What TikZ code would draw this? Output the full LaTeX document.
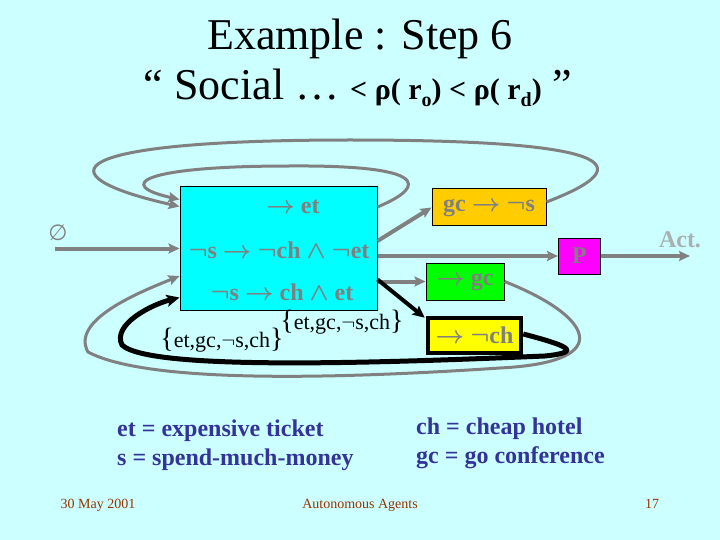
\documentclass[tikz,border=0pt]{standalone}
\usepackage{fontspec}
\setmainfont{Liberation Serif}
\newfontfamily\symfont{DejaVu Sans}
\usetikzlibrary{arrows.meta}
\definecolor{bgc}{HTML}{CCFFFF}
\definecolor{mainc}{HTML}{00FFFF}
\definecolor{orangec}{HTML}{FFCC00}
\definecolor{greenc}{HTML}{00FF00}
\definecolor{yellowc}{HTML}{FFFF00}
\definecolor{magc}{HTML}{FF00FF}
\definecolor{grayc}{HTML}{808080}
\definecolor{actc}{HTML}{A8B0B0}
\definecolor{legc}{HTML}{333399}
\definecolor{footc}{HTML}{993300}
\newcommand{\myto}{$\rightarrow$}
\newcommand{\myneg}{$\neg$}
\newcommand{\myand}{$\wedge$}
\newcommand{\myssub}[1]{\raisebox{-7pt}{\fontsize{20}{20}\selectfont #1}}
\newcommand{\mybr}[1]{{\fontsize{28}{28}\selectfont #1}}
\tikzset{
  gtxt/.style={text=grayc, font=\fontsize{24}{24}\selectfont\bfseries\boldmath},
  boxst/.style={draw=black, line width=1pt, inner sep=0pt},
  tipst/.style={-{Stealth[length=11pt,width=10pt,inset=2pt]}},
  garrow/.style={draw=grayc, line width=4pt, tipst},
  gloop/.style={draw=grayc, line width=3pt, tipst},
  barrow/.style={draw=black, line width=5pt, -{Stealth[length=13pt,width=12pt,inset=3pt]}},
  legend/.style={text=legc, font=\fontsize{24}{24}\selectfont\bfseries, anchor=base west, inner sep=0pt},
  foot/.style={text=footc, font=\fontsize{14}{14}\selectfont, anchor=base, inner sep=0pt},
  brlabel/.style={text=black, font=\fontsize{22}{22}\selectfont, inner sep=0pt},
}
\begin{document}
\begin{tikzpicture}[x=1pt,y=-1pt]
\useasboundingbox (0,0) rectangle (720,540);
\fill[bgc] (0,0) rectangle (720,540);

% title
\node[anchor=base, inner sep=0pt, font=\fontsize{44}{44}\selectfont] (t1) at (360,50) {Example : Step 6};
\node[anchor=base, inner sep=0pt] (t2) at (358,100) {{\fontsize{44}{44}\selectfont “ Social … }{\fontsize{30}{30}\selectfont\bfseries < ρ( r\myssub{o}) < ρ( r\myssub{d})}{\fontsize{44}{44}\selectfont\ ”}};

% boxes
\node[boxst, fill=mainc, minimum width=197pt, minimum height=123pt] (main) at (278.5,248.5) {};
\node[gtxt] (r1) at (293,207) {\myto\ et};
\node[gtxt] (r2) at (279,250) {\myneg s \myto\ \myneg ch \myand\ \myneg et};
\node[gtxt] (r3) at (282,292) {\myneg s \myto\ ch \myand\ et};

\node[boxst, fill=orangec, minimum width=114pt, minimum height=37pt, gtxt] (gcs) at (489,207.5) {gc \myto\ \myneg s};
\node[boxst, fill=magc, minimum width=42pt, minimum height=36pt, gtxt] (P) at (579.5,256) {P};
\node[boxst, fill=greenc, minimum width=78pt, minimum height=37pt, gtxt] (gc) at (465,281.5) {\myto\ gc};
\node[boxst, line width=4.5pt, fill=yellowc, minimum width=93pt, minimum height=35pt, gtxt] (ch) at (474.5,335.5) {\myto\ \myneg ch};

% empty set input
\node[text=grayc, font=\fontsize{22}{22}\selectfont\symfont, inner sep=0pt] (empty) at (58,233) {∅};
\coordinate (s0) at (55,248.5);
\draw[garrow] (s0) -- (main.west);

% output
\coordinate (actend) at (690,256);
\node[text=actc, font=\fontsize{24}{24}\selectfont\bfseries, inner sep=0pt] (act) at (680,240) {Act.};
\draw[garrow] (main.east |- P.west) -- (P.west);
\draw[garrow] (P.east) -- (actend);
\draw[garrow] ([yshift=7.5pt]main.east) -- (gcs.west);
\draw[garrow] (main.east |- gc.west) -- (gc.west);
\draw[draw=black, line width=4pt, -{Stealth[length=12pt,width=11pt,inset=2pt]}] ([yshift=-31pt]main.east) -- ([xshift=-1pt,yshift=-2pt]ch.north west);

% loops on top
\draw[gloop] ([yshift=41.5pt]main.east) .. controls (430,185) and (425,165) .. (290,166)
  .. controls (140,166) and (115,185) .. ([yshift=-13pt]main.north west);
\draw[gloop] ([yshift=5.5pt]gcs.east) .. controls (630,170) and (640,140) .. (350,140)
  .. controls (60,140) and (40,175) .. ([yshift=-20pt]main.north west);

% loops at bottom
\draw[gloop] (gc.east) .. controls (590,315) and (620,362) .. (500,368)
  .. controls (350,378) and (150,385) .. (88,352)
  .. controls (70,320) and (140,292) .. ([yshift=-27.5pt]main.west);
\draw[barrow] ([yshift=1.5pt]ch.east) .. controls (565,345) and (585,352) .. (545,356)
  .. controls (400,362) and (150,372) .. (122,345)
  .. controls (112,325) and (150,305) .. ([yshift=13pt]main.south west);

% brace labels
\node[brlabel] (l1) at (342,322) {\mybr{\{}et,gc,\myneg s,ch\mybr{\}}};
\node[brlabel] (l2) at (222,340) {\mybr{\{}et,gc,\myneg s,ch\mybr{\}}};

% legend
\node[legend] (e1) at (117,436) {et = expensive ticket};
\node[legend] (e2) at (117,465) {s = spend-much-money};
\node[legend] (e3) at (416,434) {ch = cheap hotel};
\node[legend] (e4) at (416,463) {gc = go conference};

% footer
\node[foot] (f1) at (98,508) {30 May 2001};
\node[foot] (f2) at (360,508) {Autonomous Agents};
\node[foot] (f3) at (652,508) {17};
\end{tikzpicture}
\end{document}
